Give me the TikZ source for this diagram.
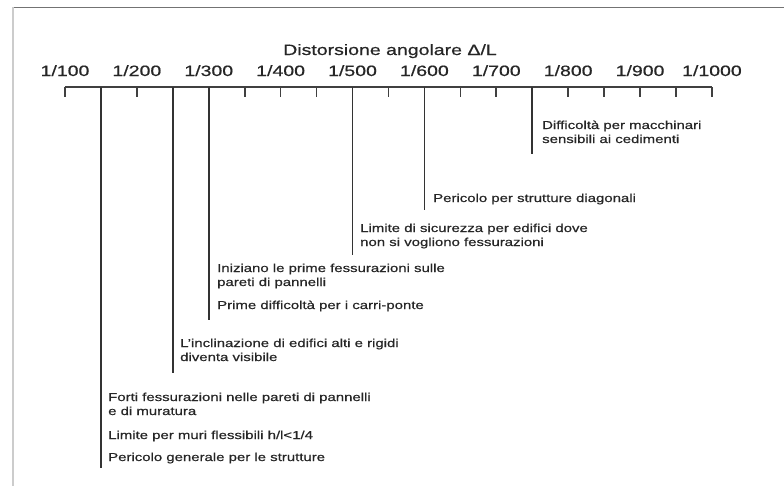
\documentclass[tikz,border=0pt]{standalone}
\usepackage{fontspec}
\setmainfont{Liberation Sans}[FakeStretch=1.3,FakeBold=0.6]
\begin{document}
\begin{tikzpicture}[x=1pt,y=-1pt,
    every node/.style={inner sep=0pt,text=black!85},
    note/.style={anchor=base west,align=left,font=\fontsize{11.5}{14}\selectfont},
    scalelab/.style={anchor=base,font=\fontsize{15}{18}\selectfont}]
    \useasboundingbox (0,0) rectangle (784,490);
    \draw[black!55,line width=0.6pt](13,7)--(784,7);
    \draw[black!20,line width=1.5pt](13,7)--(13,486);
    \foreach \i in {0,...,18}
        \coordinate (t\i) at (65+35.94*\i,87);
    \draw[black!75,line width=1.6pt](t0)--(t18);
    \foreach \i in {0,...,18}
        \draw[black!75,line width=1.6pt](t\i)--++(0,10);
    \foreach \i/\d in {0/100,2/200,4/300,6/400,8/500,10/600,12/700,14/800,16/900,18/1000}
        \node[scalelab] (l\i) at ([yshift=11pt]t\i) {1/\d};
    \node[scalelab] (title) at (390,55) {Distorsione angolare Δ/L};
    \coordinate (b1) at (t1 |- 0,468);
    \coordinate (b3) at (t3 |- 0,373);
    \coordinate (b4) at (t4 |- 0,320);
    \coordinate (b8) at (t8 |- 0,255);
    \coordinate (b10) at (t10 |- 0,210);
    \coordinate (b13) at (t13 |- 0,154);
    \foreach \i in {1,3,4,8,10,13}
        \draw[black!80,line width=1.8pt](t\i)--(b\i);
    \node[note] (n13) at (542,143) {Difficoltà per macchinari\\sensibili ai cedimenti};
    \node[note] (n10) at (433,202) {Pericolo per strutture diagonali};
    \node[note] (n8) at (360,246) {Limite di sicurezza per edifici dove\\non si vogliono fessurazioni};
    \node[note] (n4a) at (217,286) {Iniziano le prime fessurazioni sulle\\pareti di pannelli};
    \node[note] (n4b) at (217,309) {Prime difficoltà per i carri-ponte};
    \node[note] (n3) at (180,361) {L'inclinazione di edifici alti e rigidi\\diventa visibile};
    \node[note] (n1a) at (108,415) {Forti fessurazioni nelle pareti di pannelli\\e di muratura};
    \node[note] (n1b) at (108,439) {Limite per muri flessibili h/l<1/4};
    \node[note] (n1c) at (108,461) {Pericolo generale per le strutture};
\end{tikzpicture}
\end{document}
